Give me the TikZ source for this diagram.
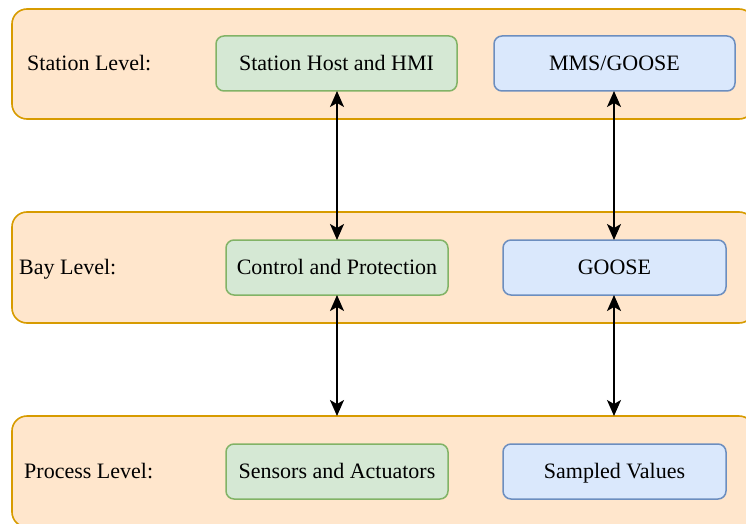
\documentclass[tikz,border=0pt]{standalone}
\usepackage{fontspec}
\setmainfont{Liberation Serif}
\usetikzlibrary{arrows.meta}
\definecolor{lvlfill}{HTML}{FFE6CC}
\definecolor{lvldraw}{HTML}{D79B00}
\definecolor{gfill}{HTML}{D5E8D4}
\definecolor{gdraw}{HTML}{82B366}
\definecolor{bfill}{HTML}{DAE8FC}
\definecolor{bdraw}{HTML}{6C8EBF}
\tikzset{
  level/.style={fill=lvlfill, draw=lvldraw, line width=1.6pt, rounded corners=15pt},
  greenbox/.style={fill=gfill, draw=gdraw, line width=1.5pt, rounded corners=8pt},
  bluebox/.style={fill=bfill, draw=bdraw, line width=1.5pt, rounded corners=8pt},
  boxtext/.style={anchor=base, font=\fontsize{22}{26}\selectfont, inner sep=0pt},
  lvllabel/.style={anchor=base west, inner sep=0pt, font=\fontsize{22}{26}\selectfont},
  link/.style={line width=1.8pt, {Stealth[length=16pt,width=14pt,inset=4pt]}-{Stealth[length=16pt,width=14pt,inset=4pt]}}
}
\begin{document}
\begin{tikzpicture}[x=1pt,y=-1pt]
\useasboundingbox (0,0) rectangle (746,524);
\begin{scope}
\clip (0,0) rectangle (746,524);
% level bands
\draw[level] (12,9) rectangle (754,119);
\draw[level] (12,212) rectangle (754,323);
\draw[level] (12,416) rectangle (754,527);
\coordinate (procTopL) at (337,416);
\coordinate (procTopR) at (614,416);
\end{scope}
% level captions
\node[lvllabel] (lstation) at (27,70.5) {Station Level:};
\node[lvllabel] (lbay) at (19,274.5) {Bay Level:};
\node[lvllabel] (lprocess) at (24,478.5) {Process Level:};
% components
\path[greenbox] (216,36) rectangle (457,91);
\node[boxtext] (host) at (336.5,70.5) {Station Host and HMI};
\path[bluebox] (494,36) rectangle (735,91);
\node[boxtext] (mms) at (614.5,70.5) {MMS/GOOSE};
\path[greenbox] (226,240) rectangle (448,295);
\node[boxtext] (ctrl) at (337,274.5) {Control and Protection};
\path[bluebox] (503,240) rectangle (726,295);
\node[boxtext] (goose) at (614.5,274.5) {GOOSE};
\path[greenbox] (226,444) rectangle (448,499);
\node[boxtext] (sens) at (337,478.5) {Sensors and Actuators};
\path[bluebox] (503,444) rectangle (726,499);
\node[boxtext] (sv) at (614.5,478.5) {Sampled Values};
% box edge anchors
\coordinate (hostB) at (337,91);
\coordinate (ctrlT) at (337,240);
\coordinate (ctrlB) at (337,295);
\coordinate (mmsB) at (614,91);
\coordinate (gooseT) at (614,240);
\coordinate (gooseB) at (614,295);
% links
\draw[link] (hostB) -- (ctrlT);
\draw[link] (mmsB) -- (gooseT);
\draw[link] (ctrlB) -- (procTopL);
\draw[link] (gooseB) -- (procTopR);
\end{tikzpicture}
\end{document}
